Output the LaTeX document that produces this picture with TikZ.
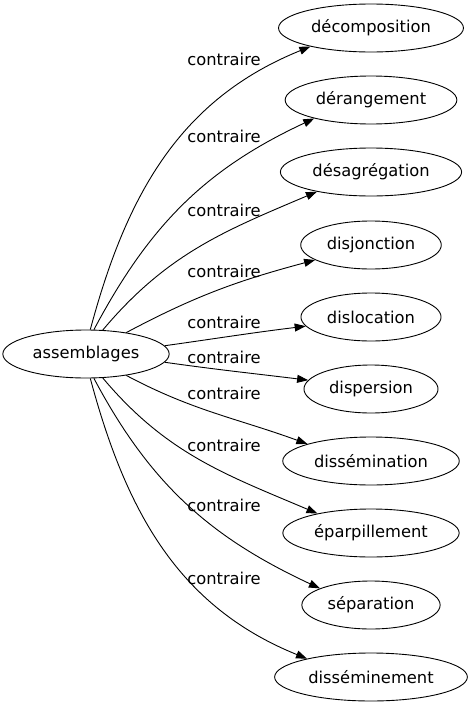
\documentclass[tikz,border=0pt]{standalone}
\usepackage{fontspec}
\setmainfont{DejaVu Sans}
\usetikzlibrary{shapes.geometric,arrows.meta}

\tikzset{
  mot/.style={draw, ellipse, minimum height=48pt, inner xsep=5.5pt, inner ysep=0pt,
    line width=0.9pt, font=\fontsize{16.3}{19}\selectfont},
  lien/.style={-{Triangle[length=11pt,width=8pt]}, line width=0.9pt},
  etiq/.style={inner sep=0pt, font=\fontsize{16.3}{19}\selectfont},
}

\begin{document}
\begin{tikzpicture}[x=1pt,y=1pt]
\useasboundingbox (0,0) rectangle (469,-707);
\node[mot] (assemblages) at (86,-354) {assemblages};
% the ten opposites, one column on the right
\foreach \nom/\mot/\yy in {decomposition/décomposition/28, derangement/dérangement/100,
    desagregation/désagrégation/172, disjonction/disjonction/245, dislocation/dislocation/317,
    dispersion/dispersion/389, dissemination/dissémination/461, eparpillement/éparpillement/533,
    separation/séparation/605, disseminement/disséminement/677}
  {\node[mot] (\nom) at (371,-\yy) {\mot};}
% edges: start anchor / out / in / end anchor
\foreach \nom/\a/\o/\i/\b in {decomposition/80/75/202/197, derangement/72/62/205/198,
    desagregation/55/50/203/200, disjonction/28/28/195/195, dislocation/6/8/187/188,
    dispersion/354/352/173/172, dissemination/332/332/160/165, eparpillement/305/310/157/160,
    separation/288/298/155/162, disseminement/280/285/158/164}
  {\draw[lien] (assemblages.\a) to[out=\o,in=\i] (\nom.\b);}
\foreach \yy [count=\k] in {59,136,210,271,322,357,393,445,505,578}
  {\node[etiq] (contraire\k) at (224,-\yy) {contraire};}
\end{tikzpicture}
\end{document}
